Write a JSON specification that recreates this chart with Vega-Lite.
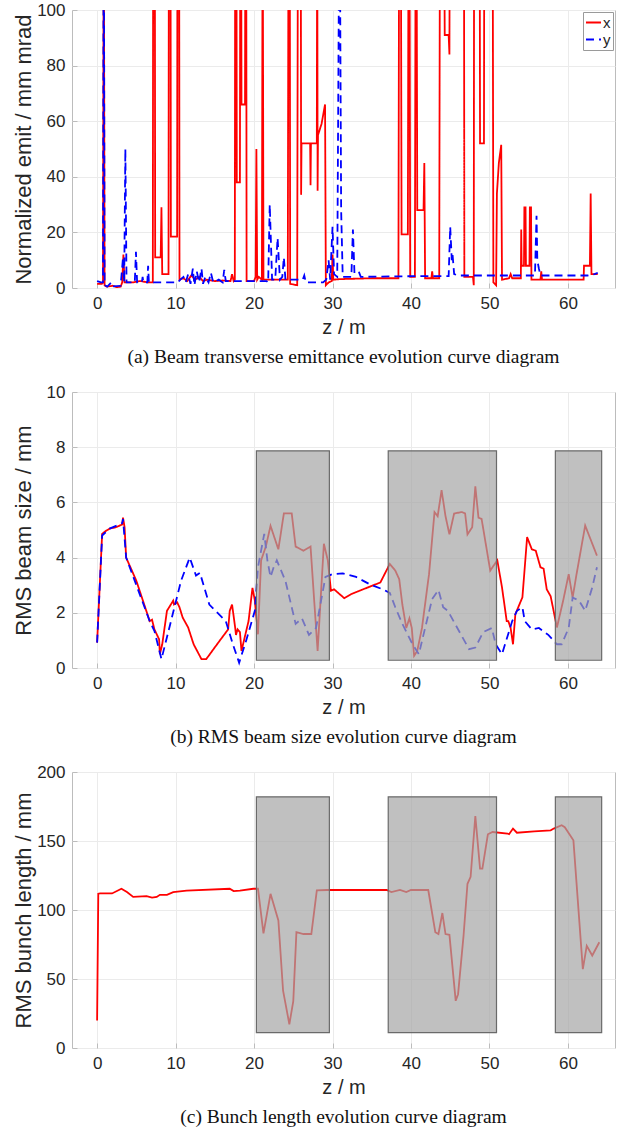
{
  "$schema": "https://vega.github.io/schema/vega-lite/v6.json",
  "padding": {"left": 11, "top": 0, "right": 0, "bottom": 2},
  "spacing": 15,
  "config": {
    "font": "Liberation Sans",
    "view": {"stroke": "#bcbcbc", "strokeWidth": 1},
    "axis": {
      "domain": false,
      "grid": true,
      "gridColor": "#ebebeb",
      "gridWidth": 1,
      "tickColor": "#bcbcbc",
      "tickSize": -5,
      "labelFont": "Liberation Sans",
      "labelFontSize": 17,
      "labelColor": "#262626",
      "labelPadding": 12,
      "titleFont": "Liberation Sans",
      "titleFontWeight": "normal",
      "titleColor": "#262626"
    },
    "axisX": {"titleFontSize": 20, "titlePadding": 6},
    "axisY": {"titleFontSize": 22, "titlePadding": 5, "minExtent": 32, "maxExtent": 32},
    "legend": {
      "orient": "top-right",
      "offset": 2,
      "fillColor": "white",
      "strokeColor": "#9a9a9a",
      "padding": 2,
      "symbolType": "stroke",
      "symbolSize": 225,
      "symbolStrokeWidth": 2,
      "labelFontSize": 15,
      "labelFont": "Liberation Sans",
      "labelColor": "#262626",
      "rowPadding": 0,
      "labelOffset": 1
    },
    "title": {"font": "Liberation Serif", "fontSize": 19.5, "fontWeight": "normal", "color": "#111111", "orient": "bottom", "offset": 11, "anchor": "middle"}
  },
  "datasets": {
    "boxes": [
      {"z1": 20.3, "z2": 29.6, "lo_b": 0.28, "hi_b": 7.87, "lo_c": 11.1, "hi_c": 182},
      {"z1": 37.1, "z2": 50.9, "lo_b": 0.28, "hi_b": 7.87, "lo_c": 11.1, "hi_c": 182},
      {"z1": 58.4, "z2": 64.3, "lo_b": 0.28, "hi_b": 7.87, "lo_c": 11.1, "hi_c": 182}
    ],
    "emit": [
      {"z":0,"v":1.5,"s":"x"},{"z":0.6,"v":1.5,"s":"x"},{"z":0.75,"v":2,"s":"x"},{"z":0.85,"v":150,"s":"x"},{"z":0.95,"v":1,"s":"x"},
      {"z":1.2,"v":0.5,"s":"x"},{"z":2.0,"v":0.8,"s":"x"},{"z":2.5,"v":0.3,"s":"x"},{"z":3.0,"v":0.5,"s":"x"},{"z":3.2,"v":2,"s":"x"},
      {"z":3.35,"v":12,"s":"x"},{"z":3.5,"v":2,"s":"x"},{"z":4.5,"v":2,"s":"x"},{"z":5.5,"v":2.5,"s":"x"},{"z":6.5,"v":2,"s":"x"},
      {"z":7.1,"v":2,"s":"x"},{"z":7.15,"v":150,"s":"x"},{"z":7.35,"v":150,"s":"x"},{"z":7.4,"v":11,"s":"x"},{"z":8.1,"v":11,"s":"x"},
      {"z":8.2,"v":29,"s":"x"},{"z":8.3,"v":5,"s":"x"},{"z":9.1,"v":5,"s":"x"},{"z":9.15,"v":150,"s":"x"},{"z":9.35,"v":150,"s":"x"},
      {"z":9.4,"v":18.5,"s":"x"},{"z":10.2,"v":18.5,"s":"x"},{"z":10.25,"v":150,"s":"x"},{"z":10.45,"v":150,"s":"x"},{"z":10.5,"v":3,"s":"x"},
      {"z":11,"v":3.5,"s":"x"},{"z":11.5,"v":2.5,"s":"x"},{"z":12,"v":4.5,"s":"x"},{"z":12.5,"v":3,"s":"x"},{"z":13,"v":4,"s":"x"},
      {"z":13.5,"v":2.5,"s":"x"},{"z":14,"v":3,"s":"x"},{"z":15,"v":2.5,"s":"x"},{"z":16,"v":2.7,"s":"x"},{"z":17.0,"v":2.5,"s":"x"},
      {"z":17.2,"v":5,"s":"x"},{"z":17.4,"v":2.5,"s":"x"},{"z":17.55,"v":3,"s":"x"},{"z":17.6,"v":150,"s":"x"},{"z":17.75,"v":150,"s":"x"},
      {"z":17.8,"v":38,"s":"x"},{"z":18.2,"v":38,"s":"x"},{"z":18.25,"v":150,"s":"x"},{"z":18.35,"v":150,"s":"x"},{"z":18.4,"v":66,"s":"x"},
      {"z":18.85,"v":66,"s":"x"},{"z":18.9,"v":150,"s":"x"},{"z":19.0,"v":150,"s":"x"},{"z":19.05,"v":2.5,"s":"x"},{"z":20.0,"v":2.5,"s":"x"},
      {"z":20.2,"v":4,"s":"x"},{"z":20.3,"v":50,"s":"x"},{"z":20.4,"v":3,"s":"x"},{"z":20.6,"v":4,"s":"x"},{"z":21.0,"v":3,"s":"x"},
      {"z":21.1,"v":150,"s":"x"},{"z":21.2,"v":3,"s":"x"},{"z":24.3,"v":3,"s":"x"},{"z":24.4,"v":150,"s":"x"},{"z":24.55,"v":150,"s":"x"},
      {"z":24.6,"v":1.5,"s":"x"},{"z":25.5,"v":1,"s":"x"},{"z":25.6,"v":150,"s":"x"},{"z":25.95,"v":150,"s":"x"},{"z":26.0,"v":33.5,"s":"x"},
      {"z":26.05,"v":52,"s":"x"},{"z":27.15,"v":52,"s":"x"},{"z":27.2,"v":37,"s":"x"},{"z":27.25,"v":52,"s":"x"},{"z":28.0,"v":52,"s":"x"},
      {"z":28.05,"v":150,"s":"x"},{"z":28.1,"v":35,"s":"x"},{"z":28.15,"v":55,"s":"x"},{"z":28.6,"v":59,"s":"x"},{"z":29.05,"v":66,"s":"x"},
      {"z":29.15,"v":1,"s":"x"},{"z":29.5,"v":2,"s":"x"},{"z":29.9,"v":2.5,"s":"x"},{"z":30.0,"v":12,"s":"x"},{"z":30.1,"v":3,"s":"x"},
      {"z":31,"v":3.2,"s":"x"},{"z":35,"v":3.5,"s":"x"},{"z":38.4,"v":3.5,"s":"x"},{"z":38.5,"v":150,"s":"x"},{"z":38.7,"v":150,"s":"x"},
      {"z":38.8,"v":19.3,"s":"x"},{"z":39.6,"v":19.3,"s":"x"},{"z":39.7,"v":150,"s":"x"},{"z":39.8,"v":150,"s":"x"},{"z":39.9,"v":4,"s":"x"},
      {"z":40.5,"v":4,"s":"x"},{"z":40.6,"v":150,"s":"x"},{"z":40.7,"v":150,"s":"x"},{"z":40.8,"v":28,"s":"x"},{"z":41.6,"v":28,"s":"x"},
      {"z":41.7,"v":45,"s":"x"},{"z":41.8,"v":3.5,"s":"x"},{"z":42.6,"v":3.5,"s":"x"},{"z":42.7,"v":6,"s":"x"},{"z":42.8,"v":3.5,"s":"x"},
      {"z":43.6,"v":3.5,"s":"x"},{"z":43.7,"v":150,"s":"x"},{"z":44.2,"v":150,"s":"x"},{"z":44.3,"v":91,"s":"x"},{"z":44.8,"v":91,"s":"x"},
      {"z":44.9,"v":84,"s":"x"},{"z":44.95,"v":150,"s":"x"},{"z":46.75,"v":150,"s":"x"},{"z":46.8,"v":4,"s":"x"},{"z":47.9,"v":4,"s":"x"},
      {"z":48.0,"v":1,"s":"x"},{"z":48.05,"v":150,"s":"x"},{"z":48.75,"v":150,"s":"x"},{"z":48.8,"v":52,"s":"x"},{"z":49.3,"v":52,"s":"x"},
      {"z":49.35,"v":150,"s":"x"},{"z":50.4,"v":150,"s":"x"},{"z":50.5,"v":2,"s":"x"},{"z":50.85,"v":1,"s":"x"},{"z":50.95,"v":34,"s":"x"},
      {"z":51.2,"v":45,"s":"x"},{"z":51.5,"v":51.5,"s":"x"},{"z":51.6,"v":3,"s":"x"},{"z":52.5,"v":3.5,"s":"x"},{"z":52.7,"v":5,"s":"x"},
      {"z":52.9,"v":3.5,"s":"x"},{"z":54.0,"v":3.5,"s":"x"},{"z":54.05,"v":21,"s":"x"},{"z":54.1,"v":8,"s":"x"},{"z":54.4,"v":8,"s":"x"},
      {"z":54.45,"v":29,"s":"x"},{"z":54.6,"v":29,"s":"x"},{"z":54.65,"v":8,"s":"x"},{"z":55.1,"v":8,"s":"x"},{"z":55.15,"v":29,"s":"x"},
      {"z":55.3,"v":29,"s":"x"},{"z":55.35,"v":3,"s":"x"},{"z":56.5,"v":3,"s":"x"},{"z":56.6,"v":6,"s":"x"},{"z":56.7,"v":3,"s":"x"},
      {"z":62.0,"v":3,"s":"x"},{"z":62.05,"v":8,"s":"x"},{"z":62.8,"v":8,"s":"x"},{"z":62.9,"v":34,"s":"x"},{"z":63.0,"v":5,"s":"x"},
      {"z":63.8,"v":5,"s":"x"},
      {"z":0,"v":2.5,"s":"y"},{"z":0.5,"v":2,"s":"y"},{"z":0.75,"v":2,"s":"y"},{"z":0.85,"v":150,"s":"y"},{"z":0.95,"v":1,"s":"y"},
      {"z":1.3,"v":0.5,"s":"y"},{"z":1.8,"v":2,"s":"y"},{"z":2.0,"v":0.6,"s":"y"},{"z":3.0,"v":0.8,"s":"y"},{"z":3.3,"v":11,"s":"y"},
      {"z":3.45,"v":2,"s":"y"},{"z":3.6,"v":50,"s":"y"},{"z":3.75,"v":2,"s":"y"},{"z":4.8,"v":2,"s":"y"},{"z":4.95,"v":13,"s":"y"},
      {"z":5.1,"v":2,"s":"y"},{"z":5.7,"v":2,"s":"y"},{"z":5.8,"v":4,"s":"y"},{"z":5.9,"v":2,"s":"y"},{"z":6.4,"v":2,"s":"y"},
      {"z":6.5,"v":8,"s":"y"},{"z":6.6,"v":2,"s":"y"},{"z":10.3,"v":2,"s":"y"},{"z":10.6,"v":3,"s":"y"},{"z":11,"v":4,"s":"y"},
      {"z":11.3,"v":2,"s":"y"},{"z":11.6,"v":5,"s":"y"},{"z":11.9,"v":1.5,"s":"y"},{"z":12.2,"v":7,"s":"y"},{"z":12.4,"v":1,"s":"y"},
      {"z":12.7,"v":6,"s":"y"},{"z":13.0,"v":2,"s":"y"},{"z":13.3,"v":7,"s":"y"},{"z":13.5,"v":1.5,"s":"y"},{"z":13.8,"v":4,"s":"y"},
      {"z":14.2,"v":2,"s":"y"},{"z":14.5,"v":5.5,"s":"y"},{"z":14.8,"v":2,"s":"y"},{"z":15.5,"v":3,"s":"y"},{"z":16.0,"v":2,"s":"y"},
      {"z":16.2,"v":6.5,"s":"y"},{"z":16.4,"v":2.5,"s":"y"},{"z":17.0,"v":2.5,"s":"y"},{"z":21.6,"v":2.5,"s":"y"},{"z":21.8,"v":2,"s":"y"},
      {"z":22.0,"v":30,"s":"y"},{"z":22.3,"v":3,"s":"y"},{"z":22.7,"v":3,"s":"y"},{"z":23.0,"v":18,"s":"y"},{"z":23.3,"v":3,"s":"y"},
      {"z":23.6,"v":4,"s":"y"},{"z":23.8,"v":11,"s":"y"},{"z":24.0,"v":3,"s":"y"},{"z":26.2,"v":3,"s":"y"},{"z":26.4,"v":4.5,"s":"y"},
      {"z":26.6,"v":2,"s":"y"},{"z":28.8,"v":2,"s":"y"},{"z":29.2,"v":3,"s":"y"},{"z":29.5,"v":10,"s":"y"},{"z":29.7,"v":3,"s":"y"},
      {"z":30.0,"v":22,"s":"y"},{"z":30.2,"v":5,"s":"y"},{"z":30.6,"v":4,"s":"y"},{"z":30.9,"v":150,"s":"y"},{"z":31.1,"v":28,"s":"y"},
      {"z":31.3,"v":4,"s":"y"},{"z":32.4,"v":4,"s":"y"},{"z":32.6,"v":21,"s":"y"},{"z":32.8,"v":5,"s":"y"},{"z":33.4,"v":5.5,"s":"y"},
      {"z":33.6,"v":4,"s":"y"},{"z":38,"v":4.2,"s":"y"},{"z":44.8,"v":4.3,"s":"y"},{"z":45.0,"v":22,"s":"y"},{"z":45.2,"v":10,"s":"y"},
      {"z":45.3,"v":12,"s":"y"},{"z":45.5,"v":5,"s":"y"},{"z":46,"v":4.5,"s":"y"},{"z":55.8,"v":4.5,"s":"y"},{"z":56.0,"v":26,"s":"y"},
      {"z":56.1,"v":10,"s":"y"},{"z":56.3,"v":7,"s":"y"},{"z":56.5,"v":4.5,"s":"y"},{"z":62.5,"v":4.5,"s":"y"},{"z":63.4,"v":5,"s":"y"},
      {"z":63.8,"v":5.5,"s":"y"}
    ],
    "size": [
      {"z":0,"v":0.92,"s":"x"},{"z":0.64,"v":4.86,"s":"x"},{"z":1.18,"v":4.98,"s":"x"},{"z":1.6,"v":5.05,"s":"x"},{"z":2.4,"v":5.1,"s":"x"},
      {"z":3.2,"v":5.2,"s":"x"},{"z":3.3,"v":5.45,"s":"x"},{"z":3.5,"v":5.1,"s":"x"},{"z":3.7,"v":4.0,"s":"x"},{"z":5.0,"v":3.16,"s":"x"},
      {"z":6.7,"v":1.7,"s":"x"},{"z":7.0,"v":1.75,"s":"x"},{"z":7.3,"v":1.4,"s":"x"},{"z":7.9,"v":1.04,"s":"x"},{"z":8.0,"v":0.5,"s":"x"},
      {"z":8.3,"v":0.86,"s":"x"},{"z":8.9,"v":2.07,"s":"x"},{"z":9.7,"v":2.44,"s":"x"},{"z":9.8,"v":2.3,"s":"x"},{"z":10.2,"v":2.38,"s":"x"},
      {"z":10.5,"v":2.2,"s":"x"},{"z":10.9,"v":1.83,"s":"x"},{"z":11.6,"v":1.47,"s":"x"},{"z":12.3,"v":0.86,"s":"x"},{"z":13.3,"v":0.32,"s":"x"},
      {"z":13.9,"v":0.32,"s":"x"},{"z":15.6,"v":0.98,"s":"x"},{"z":16.7,"v":1.4,"s":"x"},{"z":16.9,"v":2.07,"s":"x"},{"z":17.2,"v":2.3,"s":"x"},
      {"z":17.6,"v":1.45,"s":"x"},{"z":17.7,"v":1.2,"s":"x"},{"z":17.9,"v":1.4,"s":"x"},{"z":18.2,"v":1.3,"s":"x"},{"z":18.4,"v":0.62,"s":"x"},
      {"z":19.3,"v":1.7,"s":"x"},{"z":19.8,"v":2.9,"s":"x"},{"z":20.1,"v":2.45,"s":"x"},{"z":20.5,"v":1.22,"s":"x"},{"z":20.9,"v":3.9,"s":"x"},
      {"z":21.5,"v":4.4,"s":"x"},{"z":22.1,"v":5.15,"s":"x"},{"z":23.1,"v":4.3,"s":"x"},{"z":23.8,"v":5.6,"s":"x"},{"z":24.8,"v":5.6,"s":"x"},
      {"z":25.3,"v":4.4,"s":"x"},{"z":26.3,"v":4.25,"s":"x"},{"z":27.2,"v":4.4,"s":"x"},{"z":28.1,"v":0.62,"s":"x"},{"z":28.9,"v":4.5,"s":"x"},
      {"z":29.4,"v":3.9,"s":"x"},{"z":29.8,"v":2.8,"s":"x"},{"z":30.2,"v":2.85,"s":"x"},{"z":31.5,"v":2.53,"s":"x"},{"z":32.4,"v":2.68,"s":"x"},
      {"z":36.1,"v":3.1,"s":"x"},{"z":37.3,"v":3.77,"s":"x"},{"z":38.0,"v":3.53,"s":"x"},{"z":38.5,"v":3.22,"s":"x"},{"z":38.9,"v":2.3,"s":"x"},
      {"z":39.4,"v":1.45,"s":"x"},{"z":39.8,"v":1.8,"s":"x"},{"z":40.1,"v":1.45,"s":"x"},{"z":40.4,"v":0.44,"s":"x"},{"z":40.8,"v":0.62,"s":"x"},
      {"z":41.4,"v":1.45,"s":"x"},{"z":42.3,"v":3.4,"s":"x"},{"z":43.0,"v":5.65,"s":"x"},{"z":43.4,"v":5.5,"s":"x"},{"z":43.9,"v":6.44,"s":"x"},
      {"z":44.4,"v":5.5,"s":"x"},{"z":44.9,"v":4.84,"s":"x"},{"z":45.5,"v":5.6,"s":"x"},{"z":46.5,"v":5.65,"s":"x"},{"z":46.9,"v":5.6,"s":"x"},
      {"z":47.2,"v":4.84,"s":"x"},{"z":47.8,"v":5.1,"s":"x"},{"z":48.2,"v":6.58,"s":"x"},{"z":48.6,"v":5.45,"s":"x"},{"z":49.0,"v":5.4,"s":"x"},
      {"z":50.1,"v":3.53,"s":"x"},{"z":51.0,"v":3.9,"s":"x"},{"z":51.6,"v":2.92,"s":"x"},{"z":52.2,"v":1.7,"s":"x"},{"z":52.4,"v":1.7,"s":"x"},
      {"z":52.7,"v":1.45,"s":"x"},{"z":53.0,"v":0.86,"s":"x"},{"z":53.3,"v":1.95,"s":"x"},{"z":54.2,"v":2.56,"s":"x"},{"z":54.8,"v":4.74,"s":"x"},
      {"z":55.4,"v":4.3,"s":"x"},{"z":55.9,"v":4.25,"s":"x"},{"z":56.5,"v":3.65,"s":"x"},{"z":56.9,"v":3.6,"s":"x"},{"z":57.3,"v":2.85,"s":"x"},
      {"z":57.8,"v":2.6,"s":"x"},{"z":58.6,"v":1.47,"s":"x"},{"z":59.4,"v":2.45,"s":"x"},{"z":60.1,"v":3.4,"s":"x"},{"z":60.6,"v":2.55,"s":"x"},
      {"z":61.1,"v":3.4,"s":"x"},{"z":62.2,"v":5.16,"s":"x"},{"z":63.7,"v":4.07,"s":"x"},
      {"z":0,"v":0.92,"s":"y"},{"z":0.64,"v":4.8,"s":"y"},{"z":1.6,"v":5.05,"s":"y"},{"z":3.2,"v":5.25,"s":"y"},{"z":3.3,"v":5.4,"s":"y"},
      {"z":3.7,"v":4.0,"s":"y"},{"z":6.7,"v":1.7,"s":"y"},{"z":7.3,"v":1.35,"s":"y"},{"z":8.2,"v":0.32,"s":"y"},{"z":10.7,"v":3.16,"s":"y"},
      {"z":11.8,"v":4.0,"s":"y"},{"z":12.6,"v":3.35,"s":"y"},{"z":13.1,"v":3.45,"s":"y"},{"z":14.3,"v":2.3,"s":"y"},{"z":16.4,"v":1.7,"s":"y"},
      {"z":17.3,"v":0.86,"s":"y"},{"z":18.1,"v":0.19,"s":"y"},{"z":19.0,"v":1.0,"s":"y"},{"z":20.1,"v":2.07,"s":"y"},{"z":20.5,"v":3.65,"s":"y"},
      {"z":21.3,"v":4.86,"s":"y"},{"z":21.7,"v":3.9,"s":"y"},{"z":22.1,"v":3.3,"s":"y"},{"z":22.5,"v":3.65,"s":"y"},{"z":22.9,"v":3.9,"s":"y"},
      {"z":24.0,"v":3.16,"s":"y"},{"z":25.3,"v":1.6,"s":"y"},{"z":26.1,"v":1.8,"s":"y"},{"z":27.0,"v":1.2,"s":"y"},{"z":27.9,"v":1.45,"s":"y"},
      {"z":29.1,"v":3.3,"s":"y"},{"z":30.0,"v":3.4,"s":"y"},{"z":31.3,"v":3.43,"s":"y"},{"z":33.0,"v":3.3,"s":"y"},{"z":34.7,"v":3.04,"s":"y"},
      {"z":36.4,"v":2.85,"s":"y"},{"z":37.3,"v":2.72,"s":"y"},{"z":38.0,"v":2.2,"s":"y"},{"z":38.9,"v":1.6,"s":"y"},{"z":40.2,"v":0.86,"s":"y"},
      {"z":41.0,"v":0.5,"s":"y"},{"z":41.8,"v":1.45,"s":"y"},{"z":42.7,"v":2.5,"s":"y"},{"z":43.5,"v":2.83,"s":"y"},{"z":44.1,"v":2.2,"s":"y"},
      {"z":44.7,"v":2.07,"s":"y"},{"z":46.1,"v":1.35,"s":"y"},{"z":47.4,"v":0.68,"s":"y"},{"z":48.2,"v":0.74,"s":"y"},{"z":49.2,"v":1.3,"s":"y"},
      {"z":50.3,"v":1.45,"s":"y"},{"z":50.8,"v":0.86,"s":"y"},{"z":51.6,"v":0.5,"s":"y"},{"z":52.9,"v":1.7,"s":"y"},{"z":53.5,"v":2.07,"s":"y"},
      {"z":54.2,"v":2.2,"s":"y"},{"z":54.5,"v":1.7,"s":"y"},{"z":55.4,"v":1.4,"s":"y"},{"z":56.3,"v":1.45,"s":"y"},{"z":57.5,"v":1.2,"s":"y"},
      {"z":58.6,"v":0.86,"s":"y"},{"z":59.2,"v":0.86,"s":"y"},{"z":60.1,"v":1.45,"s":"y"},{"z":60.6,"v":2.55,"s":"y"},{"z":61.4,"v":2.45,"s":"y"},
      {"z":62.2,"v":2.07,"s":"y"},{"z":63.1,"v":2.92,"s":"y"},{"z":63.7,"v":3.65,"s":"y"}
    ],
    "bunch": [
      {"z":0,"v":20},{"z":0.15,"v":111.8},{"z":0.4,"v":112},{"z":1.9,"v":112},{"z":3.1,"v":115.4},{"z":3.8,"v":113},{"z":4.6,"v":109.5},
      {"z":6.3,"v":110},{"z":7.0,"v":109},{"z":7.6,"v":109.5},{"z":8.0,"v":111},{"z":8.9,"v":111},{"z":9.7,"v":113},{"z":11.4,"v":114},
      {"z":16.9,"v":115.4},{"z":17.4,"v":113.7},{"z":18.2,"v":114},{"z":19.9,"v":115.4},{"z":20.5,"v":115.4},{"z":21.2,"v":83},
      {"z":22.1,"v":111.7},{"z":23.1,"v":92.4},{"z":23.7,"v":41.5},{"z":24.5,"v":17.2},{"z":25.0,"v":34},{"z":25.4,"v":83.9},
      {"z":26.3,"v":82.6},{"z":27.3,"v":82.6},{"z":28.0,"v":114.3},{"z":29.3,"v":114.5},{"z":36.9,"v":114.5},{"z":37.5,"v":113},
      {"z":38.6,"v":114.5},{"z":39.4,"v":113},{"z":40.0,"v":114.5},{"z":42.2,"v":114.5},{"z":43.1,"v":83.9},{"z":43.5,"v":82.6},
      {"z":44.0,"v":97.8},{"z":44.4,"v":82.6},{"z":44.9,"v":82},{"z":45.7,"v":34.2},{"z":46.0,"v":39},{"z":46.7,"v":81.4},
      {"z":47.2,"v":119},{"z":47.6,"v":124},{"z":48.2,"v":168},{"z":48.8,"v":130},{"z":49.1,"v":130},{"z":49.8,"v":154.9},
      {"z":50.4,"v":156.5},{"z":52.3,"v":155.4},{"z":52.5,"v":154.9},{"z":53.0,"v":159},{"z":53.5,"v":156},{"z":55.7,"v":157},
      {"z":57.8,"v":157.7},{"z":58.2,"v":159},{"z":59.2,"v":161.4},{"z":59.6,"v":160},{"z":60.7,"v":150.5},{"z":61.9,"v":57.2},
      {"z":62.4,"v":74},{"z":63.1,"v":67},{"z":64.0,"v":76.6}
    ]
  },
  "vconcat": [
    {
      "width": 543,
      "height": 278,
      "title": {"text": "(a) Beam transverse emittance evolution curve diagram"},
      "data": {"name": "emit"},
      "mark": {"type": "line", "clip": true, "strokeWidth": 1.8},
      "encoding": {
        "x": {"field": "z", "type": "quantitative", "scale": {"domain": [-3.2, 66], "nice": false, "zero": false}, "axis": {"title": "z / m", "values": [0, 10, 20, 30, 40, 50, 60]}},
        "y": {"field": "v", "type": "quantitative", "scale": {"domain": [0, 100], "nice": false}, "axis": {"title": "Normalized emit / mm mrad", "values": [0, 20, 40, 60, 80, 100]}},
        "color": {"field": "s", "type": "nominal", "title": null, "scale": {"domain": ["x", "y"], "range": ["#ff0000", "#0000ff"]}},
        "strokeDash": {"field": "s", "type": "nominal", "title": null, "scale": {"domain": ["x", "y"], "range": [[1, 0], [8, 5]]}}
      }
    },
    {
      "width": 543,
      "height": 276,
      "title": {"text": "(b) RMS beam size evolution curve diagram"},
      "layer": [
        {
          "data": {"name": "size"},
          "mark": {"type": "line", "clip": true, "strokeWidth": 1.8},
          "encoding": {
            "x": {"field": "z", "type": "quantitative", "scale": {"domain": [-3.2, 66], "nice": false, "zero": false}, "axis": {"title": "z / m", "values": [0, 10, 20, 30, 40, 50, 60]}},
            "y": {"field": "v", "type": "quantitative", "scale": {"domain": [0, 10], "nice": false}, "axis": {"title": "RMS beam size / mm", "values": [0, 2, 4, 6, 8, 10]}},
            "color": {"field": "s", "type": "nominal", "title": null, "scale": {"domain": ["x", "y"], "range": ["#ff0000", "#0000ff"]}},
            "strokeDash": {"field": "s", "type": "nominal", "title": null, "scale": {"domain": ["x", "y"], "range": [[1, 0], [8, 5]]}}
          }
        },
        {
          "data": {"name": "boxes"},
          "mark": {"type": "rect", "fill": "#a5a5a5", "fillOpacity": 0.7, "stroke": "#6a6a6a", "strokeWidth": 1.2},
          "encoding": {
            "x": {"field": "z1", "type": "quantitative", "title": "z / m"},
            "x2": {"field": "z2"},
            "y": {"field": "lo_b", "type": "quantitative", "title": "RMS beam size / mm"},
            "y2": {"field": "hi_b"}
          }
        }
      ]
    },
    {
      "width": 543,
      "height": 276,
      "title": {"text": "(c) Bunch length evolution curve diagram"},
      "layer": [
        {
          "data": {"name": "bunch"},
          "mark": {"type": "line", "clip": true, "strokeWidth": 1.8, "color": "#ff0000"},
          "encoding": {
            "x": {"field": "z", "type": "quantitative", "scale": {"domain": [-3.2, 66], "nice": false, "zero": false}, "axis": {"title": "z / m", "values": [0, 10, 20, 30, 40, 50, 60]}},
            "y": {"field": "v", "type": "quantitative", "scale": {"domain": [0, 200], "nice": false}, "axis": {"title": "RMS bunch length / mm", "values": [0, 50, 100, 150, 200]}}
          }
        },
        {
          "data": {"name": "boxes"},
          "mark": {"type": "rect", "fill": "#a5a5a5", "fillOpacity": 0.7, "stroke": "#6a6a6a", "strokeWidth": 1.2},
          "encoding": {
            "x": {"field": "z1", "type": "quantitative", "title": "z / m"},
            "x2": {"field": "z2"},
            "y": {"field": "lo_c", "type": "quantitative", "title": "RMS bunch length / mm"},
            "y2": {"field": "hi_c"}
          }
        }
      ]
    }
  ]
}
